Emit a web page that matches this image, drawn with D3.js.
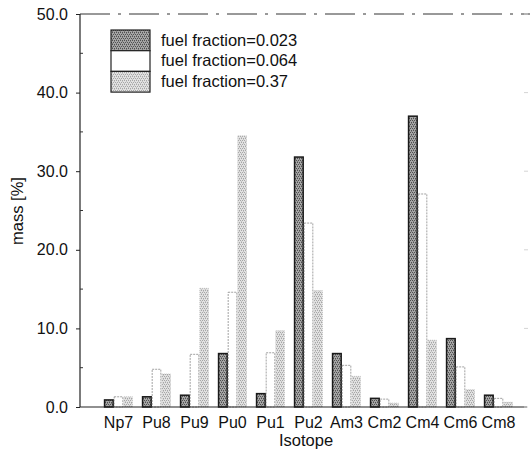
<!DOCTYPE html>
<html>
<head>
<meta charset="utf-8">
<script src="https://cdn.jsdelivr.net/npm/d3@7"></script>
<style>
  html, body { margin: 0; padding: 0; background: #fff; }
  svg { display: block; }
  text { font-family: "Liberation Sans", Arial, sans-serif; fill: #111; }
</style>
</head>
<body>
<svg id="chart" width="530" height="454"></svg>
<script>
// Isotope mass fractions for three fuel fractions
const isotopes = ["Np7", "Pu8", "Pu9", "Pu0", "Pu1", "Pu2", "Am3", "Cm2", "Cm4", "Cm6", "Cm8"];
const seriesNames = ["fuel fraction=0.023", "fuel fraction=0.064", "fuel fraction=0.37"];
const mass023 = [0.9, 1.3, 1.5, 6.8, 1.7, 31.8, 6.8, 1.1, 37.0, 8.7, 1.5];
const mass064 = [1.3, 4.8, 6.7, 14.6, 6.9, 23.4, 5.3, 1.0, 27.1, 5.1, 1.1];
const mass37  = [1.3, 4.2, 15.1, 34.5, 9.7, 14.8, 3.9, 0.5, 8.5, 2.2, 0.6];
const yTicks = [0, 10, 20, 30, 40, 50];
const yMinor = [5, 15, 25, 35, 45];

const series = [mass023, mass064, mass37];

const svg = d3.select("#chart");
const plotLeft = 80, plotBottom = 407, plotTop = 14, plotRight = 527;

const x = d3.scaleBand().domain(isotopes).range([99.5, 517.5])
  .paddingInner(0.24).paddingOuter(0.12);
const xs = d3.scaleBand().domain(d3.range(series.length)).range([0, x.bandwidth()]);
const y = d3.scaleLinear().domain([0, 50]).range([plotBottom, plotTop]);

// stipple fills (staggered dot grid)
const defs = svg.append("defs");
function stipple(id, bg, dot) {
  const p = defs.append("pattern").attr("id", id).attr("patternUnits", "userSpaceOnUse")
    .attr("width", 4).attr("height", 4);
  p.append("rect").attr("width", 4).attr("height", 4).attr("fill", bg);
  [[0, 0], [2, 0], [1, 2], [3, 2], [1, 1], [3, 3]].forEach(([px, py], k) => {
    p.append("rect").attr("x", px).attr("y", py).attr("width", 1).attr("height", 1)
      .attr("fill", dot).attr("opacity", k < 4 ? 1 : 0.5);
  });
}
stipple("darkFill", "#a6a6a6", "#505050");
stipple("lightFill", "#e2e2e2", "#a6a6a6");

const fills = ["url(#darkFill)", "#ffffff", "url(#lightFill)"];
const strokes = ["#1a1a1a", "#8a8a8a", "#bcbcbc"];
const strokeW = [1.5, 0.8, 0.8];
const dashes = [null, "2,1", "1,1"];

// bars
series.forEach((vals, si) => {
  svg.append("g").selectAll("rect").data(vals).join("rect")
    .attr("x", (d, i) => x(isotopes[i]) + xs(si) + 0.5)
    .attr("y", d => y(d))
    .attr("width", xs.bandwidth() - 1)
    .attr("height", d => y(0) - y(d))
    .attr("fill", fills[si])
    .attr("stroke", strokes[si])
    .attr("stroke-width", strokeW[si])
    .attr("stroke-dasharray", dashes[si]);
});

// frame: dashed top border, faint right ticks
svg.append("line").attr("x1", plotLeft).attr("x2", 530).attr("y1", plotTop).attr("y2", plotTop)
  .attr("stroke", "#333").attr("stroke-width", 1).attr("stroke-dasharray", "30,8,3,8");
svg.append("line").attr("x1", plotLeft).attr("x2", plotLeft).attr("y1", plotTop).attr("y2", plotBottom)
  .attr("stroke", "#222").attr("stroke-width", 1.2);
svg.append("line").attr("x1", plotLeft).attr("x2", plotRight).attr("y1", plotBottom).attr("y2", plotBottom)
  .attr("stroke", "#222").attr("stroke-width", 1.2);
svg.append("g").selectAll("line").data(yTicks).join("line")
  .attr("x1", 524).attr("x2", 528).attr("y1", d => y(d)).attr("y2", d => y(d))
  .attr("stroke", "#d4d4d4");

// y axis
const yAxis = d3.axisLeft(y).tickValues(yTicks).tickFormat(d3.format(".1f"))
  .tickSize(4).tickPadding(8);
const ga = svg.append("g").attr("transform", `translate(${plotLeft},0)`).call(yAxis);
ga.select(".domain").remove();
ga.selectAll("text").style("font-size", "16px").attr("fill", "#111");
ga.selectAll("line").attr("stroke", "#222");
svg.append("g").selectAll("line").data(yMinor).join("line")
  .attr("x1", plotLeft).attr("x2", plotLeft + 3).attr("y1", d => y(d)).attr("y2", d => y(d))
  .attr("stroke", "#333");

// x axis labels
const xAxis = d3.axisBottom(x).tickSize(0).tickPadding(10);
const gx = svg.append("g").attr("transform", `translate(0,${plotBottom})`).call(xAxis);
gx.select(".domain").remove();
gx.selectAll("text").style("font-size", "16px").attr("fill", "#111");

// axis titles
svg.append("text").attr("x", 306).attr("y", 446).attr("text-anchor", "middle")
  .style("font-size", "16.5px").text("Isotope");
svg.append("text").attr("transform", "translate(23,211) rotate(-90)")
  .attr("text-anchor", "middle").style("font-size", "16.5px").text("mass [%]");

// legend
const legend = svg.append("g").attr("transform", "translate(111,30)");
seriesNames.forEach((name, i) => {
  legend.append("rect").attr("x", 0).attr("y", i * 20.7).attr("width", 39).attr("height", 20.7)
    .attr("fill", fills[i]).attr("stroke", "#222").attr("stroke-width", 1.2);
  legend.append("text").attr("x", 50).attr("y", i * 20.7 + 15.5)
    .style("font-size", "16.5px").text(name);
});
</script>
</body>
</html>
